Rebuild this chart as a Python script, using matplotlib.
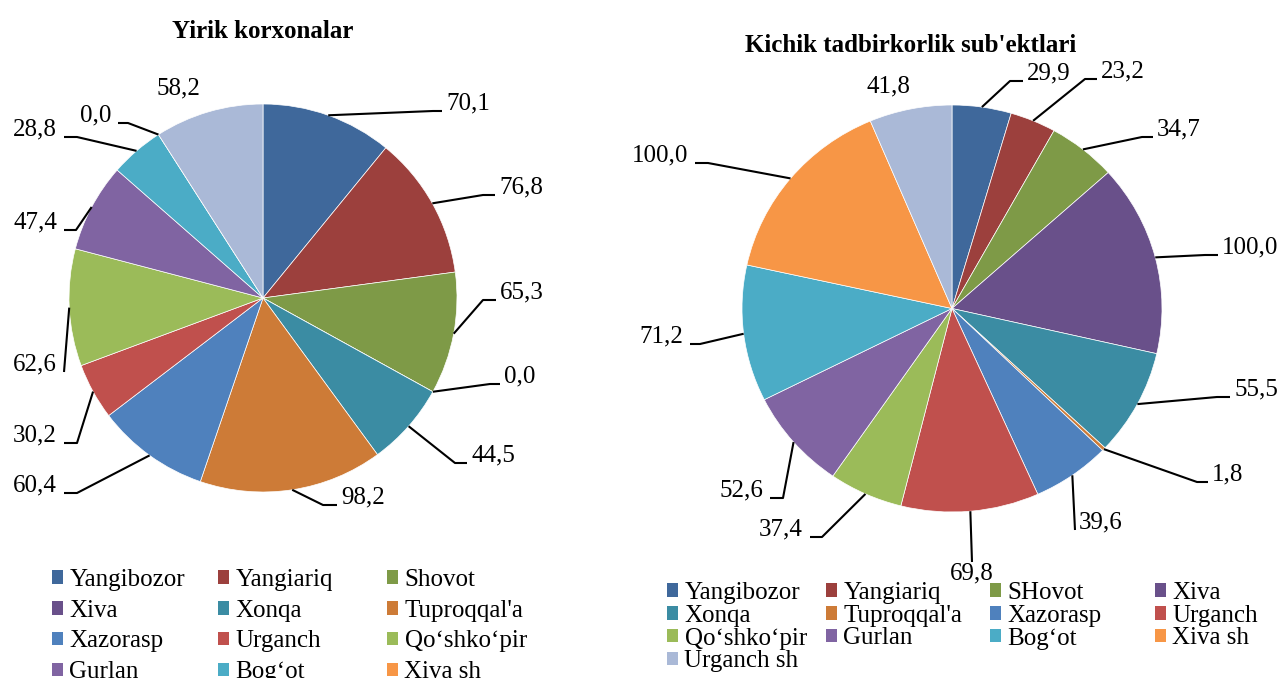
import numpy as np
import matplotlib
matplotlib.use('Agg')
import matplotlib.pyplot as plt
from matplotlib.patches import Patch
from matplotlib.legend import Legend
from matplotlib.transforms import Affine2D

plt.rcParams['font.family'] = ['Liberation Serif', 'DejaVu Serif']

# data
left_names = ['Yangibozor', 'Yangiariq', 'Shovot', 'Xiva', 'Xonqa', "Tuproqqal'a", 'Xazorasp',
              'Urganch', 'Qo‘shko‘pir', 'Gurlan', 'Bog‘ot', 'Xiva sh', 'Urganch sh']
left_vals = [70.1, 76.8, 65.3, 0.0, 44.5, 98.2, 60.4, 30.2, 62.6, 47.4, 28.8, 0.0, 58.2]

right_names = ['Yangibozor', 'Yangiariq', 'SHovot', 'Xiva', 'Xonqa', "Tuproqqal'a", 'Xazorasp',
               'Urganch', 'Qo‘shko‘pir', 'Gurlan', 'Bog‘ot', 'Xiva sh', 'Urganch sh']
right_vals = [29.9, 23.2, 34.7, 100.0, 55.5, 1.8, 39.6, 69.8, 37.4, 52.6, 71.2, 100.0, 41.8]

colors = ['#3F689B', '#9C403D', '#7E9A47', '#69508A', '#3B8CA3', '#CD7B37', '#4F81BD',
          '#C0504D', '#9BBB59', '#8064A2', '#4BACC6', '#F79646', '#AAB9D7']

# label layout in image pixels: (mode, elbow_x, elbow_y, hook_end_x)
left_lab = [('r', 433, 111, 442), ('r', 483, 195, 495), ('r', 483, 300, 496), ('r', 490, 384, 500),
            ('r', 455, 463, 467), ('r', 323, 505, 337), ('l', 77, 493, 64), ('l', 77, 443, 64),
            ('l', 64, 372, 64), ('l', 76, 230, 64), ('l', 77, 137, 64), ('l', 128, 123, 118),
            ('n', 178, 88, 0)]
right_lab = [('r', 1010, 81, 1023), ('r', 1085, 79, 1097), ('r', 1142, 137, 1153), ('r', 1205, 255, 1218),
             ('r', 1217, 397, 1230), ('r', 1197, 482, 1208), ('r', 1075, 530, 1075), ('b', 972, 562, 972),
             ('l', 822, 537, 810), ('l', 783, 498, 770), ('l', 700, 344, 690), ('l', 708, 163, 695),
             ('n', 888, 86, 0)]

W, H = 1282, 678
FS = 18
fig = plt.figure(figsize=(W / 100, H / 100), dpi=100)
ax = fig.add_axes([0, 0, 1, 1])


def draw_pie(vals, cx, cy, rx, ry, labs):
    wedges, _ = ax.pie(vals, colors=colors, startangle=90, counterclock=False,
                       center=(cx, H - cy), radius=rx,
                       wedgeprops=dict(edgecolor='white', linewidth=0.5))
    tr = Affine2D().translate(-cx, -(H - cy)).scale(1, ry / rx).translate(cx, H - cy)
    for w in wedges:
        w.set_transform(tr + ax.transData)
    total = sum(vals)
    cum = np.cumsum([0] + vals[:-1])
    for v, c0, lab in zip(vals, cum, labs):
        txt = f'{v:.1f}'.replace('.', ',')
        mode, ex, ey, hx = lab
        if mode == 'n':
            ax.text(ex, H - ey, txt, ha='center', va='center', fontsize=FS)
            continue
        th = np.radians((c0 + v / 2) / total * 360)
        px, py = cx + rx * np.sin(th), cy - ry * np.cos(th)
        ax.plot([px, ex, hx], [H - py, H - ey, H - ey], color='black', lw=1.5,
                solid_capstyle='butt')
        if mode == 'r':
            ax.text(hx + 4, H - ey + 8, txt, ha='left', va='center', fontsize=FS)
        elif mode == 'l':
            ax.text(hx - 7, H - ey + 8, txt, ha='right', va='center', fontsize=FS)
        else:
            ax.text(hx, H - ey - 11, txt, ha='center', va='center', fontsize=FS)
    return wedges


def draw_legend(names, ncol, xs, top, spacing):
    # one legend per column, so the columns sit at fixed x like the original
    for c in range(ncol):
        idx = list(range(c, len(names), ncol))
        handles = [Patch(facecolor=colors[i], edgecolor='none') for i in idx]
        leg = Legend(ax, handles, [names[i] for i in idx], loc='upper left',
                     bbox_to_anchor=(xs[c], H - top), bbox_transform=ax.transData,
                     frameon=False, borderpad=0, borderaxespad=0, handlelength=0.45,
                     handleheight=0.45, handletextpad=0.25, labelspacing=spacing,
                     fontsize=FS)
        ax.add_artist(leg)


draw_pie(left_vals, 263, 298, 194, 194, left_lab)
draw_pie(right_vals, 952, 308.5, 210, 203.5, right_lab)

ax.text(263, H - 31, 'Yirik korxonalar', ha='center', va='center', fontsize=FS, fontweight='bold')
ax.text(911, H - 45, "Kichik tadbirkorlik sub'ektlari", ha='center', va='center',
        fontsize=FS, fontweight='bold')

draw_legend(left_names, 3, [52, 218, 387], 569, 0.35)
draw_legend(right_names, 4, [667, 826, 990, 1155], 582, 0.03)

ax.set_xlim(0, W)
ax.set_ylim(0, H)
ax.set_aspect('auto')
ax.axis('off')

fig.savefig('out.png', dpi=100)
